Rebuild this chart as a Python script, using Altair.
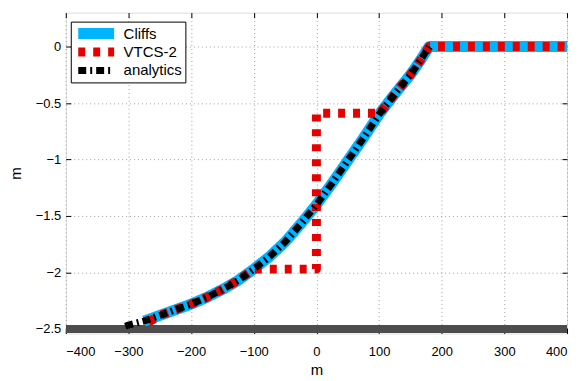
import altair as alt
import pandas as pd

# analytic / Cliffs profile
curve_x = [-300, -275, -250, -225, -200, -175, -150, -125, -100, -75, -50, -25, 0,
           25, 50, 75, 100, 125, 150, 165, 180]
curve_y = [-2.465, -2.43, -2.38, -2.33, -2.28, -2.22, -2.15, -2.07, -1.97, -1.86, -1.73,
           -1.57, -1.40, -1.21, -1.01, -0.81, -0.60, -0.42, -0.25, -0.13, 0.0]

cliffs_x = [-275, -250, -225, -200, -175, -150, -125, -100, -75, -50, -25, 0,
            25, 50, 75, 100, 125, 150, 165, 180, 400]
cliffs_y = [-2.43, -2.38, -2.33, -2.28, -2.22, -2.15, -2.07, -1.97, -1.86, -1.73, -1.57,
            -1.40, -1.21, -1.01, -0.81, -0.60, -0.42, -0.25, -0.13, 0.0, 0.0]

vtcs_x = [-268, -250, -225, -200, -175, -150, -125, -100, 0, 0, 97, 100, 125, 150, 165, 180, 400]
vtcs_y = [-2.44, -2.38, -2.33, -2.28, -2.22, -2.15, -2.07, -1.97, -1.97, -0.59, -0.59,
          -0.60, -0.42, -0.25, -0.13, 0.0, 0.0]

analytics_x = [-305] + curve_x
analytics_y = [-2.475] + curve_y

bottom_x = [-400, 400]
bottom_y = [-2.5, -2.5]

series_names = ["Cliffs", "VTCS-2", "analytics"]
series_colors = ["#00b4ff", "#e60000", "#000000"]
series_dash = [[1, 0], [7, 8], [8, 4, 2, 4]]
series_width = [11, 7, 3]

x_ticks = [-400, -300, -200, -100, 0, 100, 200, 300, 400]
y_ticks = [-2.5, -2, -1.5, -1, -0.5, 0]


def frame(xs, ys, name):
    return pd.DataFrame({"x": xs, "y": ys, "series": name, "i": list(range(len(xs)))})


df = pd.concat([
    frame(cliffs_x, cliffs_y, "Cliffs"),
    frame(vtcs_x, vtcs_y, "VTCS-2"),
    frame(analytics_x, analytics_y, "analytics"),
])
bottom_df = pd.DataFrame({"x": bottom_x, "y": bottom_y})

FONT = "Liberation Sans"
xscale = alt.Scale(domain=[-400, 400], nice=False, zero=False)
yscale = alt.Scale(domain=[-2.54, 0.30], nice=False, zero=False)

axis_common = dict(domain=False, tickSize=5, tickColor="black", offset=-5, format="~r",
                   gridColor="#a0a0a0", gridDash=[1, 3], gridWidth=1,
                   labelFont=FONT, labelFontSize=13, labelColor="black",
                   titleFont=FONT, titleFontSize=15, titleFontWeight="normal",
                   titleColor="black")

x_bottom = alt.Axis(orient="bottom", values=x_ticks, grid=True, labelPadding=12,
                    title="m", titlePadding=4, **axis_common)
y_left = alt.Axis(orient="left", values=y_ticks, grid=True, labelPadding=5,
                  title="m", titlePadding=12, **axis_common)
x_top = alt.Axis(orient="top", values=x_ticks, grid=False, labels=False, title=None,
                 domain=False, tickSize=5, tickColor="black", offset=-5)
y_right = alt.Axis(orient="right", values=y_ticks, grid=False, labels=False, title=None,
                   domain=False, tickSize=5, tickColor="black", offset=-5)

bottom_line = alt.Chart(bottom_df).mark_line(
    color="#4d4d4d", strokeWidth=8, clip=True, strokeCap="butt"
).encode(
    x=alt.X("x:Q", scale=xscale, axis=x_bottom),
    y=alt.Y("y:Q", scale=yscale, axis=y_left),
)

legend = alt.Legend(title=None, orient="none", legendX=5, legendY=9,
                    strokeColor="black", fillColor="white", padding=3,
                    symbolType="M-3,0H33", symbolSize=4, labelFont=FONT,
                    labelFontSize=15, labelColor="black", labelOffset=35,
                    clipHeight=18, rowPadding=0.5, cornerRadius=0)

enc = dict(
    color=alt.Color("series:N", scale=alt.Scale(domain=series_names, range=series_colors), legend=legend),
    strokeDash=alt.StrokeDash("series:N", scale=alt.Scale(domain=series_names, range=series_dash), legend=legend),
    strokeWidth=alt.StrokeWidth("series:N", scale=alt.Scale(domain=series_names, range=series_width), legend=legend),
    order=alt.Order("i:Q"),
)

layers = [bottom_line]
for k, name in enumerate(series_names):
    ax = dict(axis=x_top) if k == 0 else dict(axis=None)
    ay = dict(axis=y_right) if k == 0 else dict(axis=None)
    layer = alt.Chart(df).transform_filter(alt.datum.series == name).mark_line(
        clip=True, strokeJoin="round", strokeCap="butt"
    ).encode(
        x=alt.X("x:Q", scale=xscale, **ax),
        y=alt.Y("y:Q", scale=yscale, **ay),
        **enc,
    )
    layers.append(layer)

chart = alt.layer(*layers).resolve_axis(x="independent", y="independent").properties(
    width=503, height=322, padding={"left": 0, "top": 3, "right": 5, "bottom": 5}
).configure_view(stroke="black", strokeWidth=1).configure(background="white")

chart.save("out.html", embed_options={"renderer": "svg", "actions": False})
